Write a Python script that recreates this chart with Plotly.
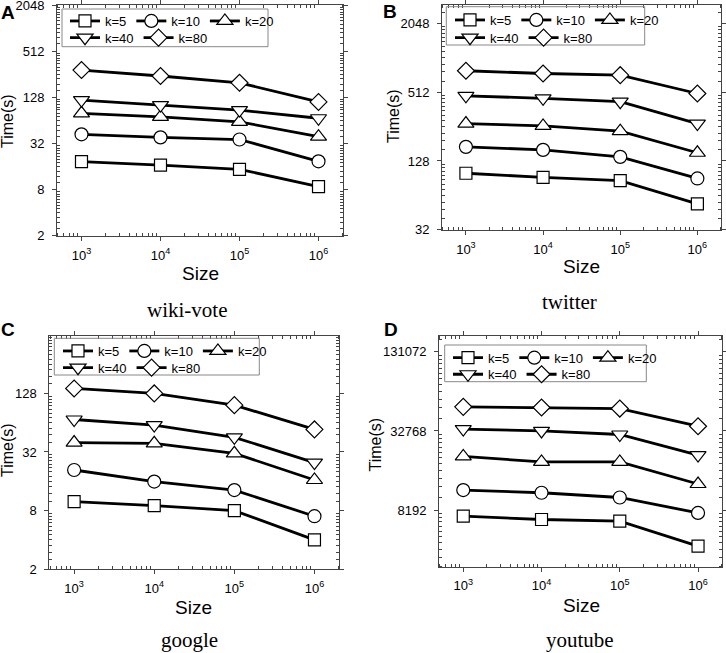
import plotly.graph_objects as go
import math

W, H = 726, 653

sizes = [1e3, 1e4, 1e5, 1e6]
k_labels = ["k=5", "k=10", "k=20", "k=40", "k=80"]
symbols = ["square", "circle", "triangle-up", "triangle-down", "diamond"]
msizes = [12, 13, 14, 14, 13]

wiki_k5 = [18.6, 16.8, 14.8, 8.8]
wiki_k10 = [42.3, 38.6, 36.2, 18.8]
wiki_k20 = [79.5, 71.5, 61.6, 39.4]
wiki_k40 = [118.6, 102, 87.6, 68.6]
wiki_k80 = [292, 244, 199, 112]

twitter_k5 = [100, 92, 86, 54]
twitter_k10 = [170, 160, 139, 90]
twitter_k20 = [272, 259, 233, 151]
twitter_k40 = [475, 452, 422, 272]
twitter_k80 = [787, 745, 720, 498]

google_k5 = [9.9, 9.0, 8.0, 4.0]
google_k10 = [20.9, 15.9, 13.0, 7.0]
google_k20 = [40, 39.3, 31, 16.5]
google_k40 = [69, 60.5, 45.3, 24.9]
google_k80 = [144, 128, 97, 54.6]

youtube_k5 = [7380, 6950, 6750, 4360]
youtube_k10 = [11640, 11100, 10220, 7800]
youtube_k20 = [21000, 19060, 19060, 12940]
youtube_k40 = [33900, 32770, 30800, 21460]
youtube_k80 = [50000, 49400, 48500, 35600]

panel_names = ["wiki-vote", "twitter", "google", "youtube"]
panel_letters = ["A", "B", "C", "D"]
panel_data = [
    [wiki_k5, wiki_k10, wiki_k20, wiki_k40, wiki_k80],
    [twitter_k5, twitter_k10, twitter_k20, twitter_k40, twitter_k80],
    [google_k5, google_k10, google_k20, google_k40, google_k80],
    [youtube_k5, youtube_k10, youtube_k20, youtube_k40, youtube_k80],
]
# y ranges as log2 exponents
y_exp_ranges = [(0.995, 11.01), (4.995, 11.53), (0.995, 8.96), (11.57, 17.4)]
y_label_exps = [[1, 3, 5, 7, 9, 11], [5, 7, 9, 11], [1, 3, 5, 7], [13, 15, 17]]
y_tick_labels = [[str(2 ** e) for e in ex] for ex in y_label_exps]
x_tick_text = ["10<sup>3</sup>", "10<sup>4</sup>", "10<sup>5</sup>", "10<sup>6</sup>"]

# plot boxes in pixels (left, top, right, bottom)
boxes = [(57, 5, 343, 236), (442, 5, 721.3, 230), (49.3, 336, 339.3, 569.3), (439, 336, 722.3, 566.7)]
legend_boxes = [(62, 9, 268, 46.7), (446.3, 6.7, 644.7, 45), (54.3, 338.3, 259.3, 375), (444.7, 345, 646.3, 381.7)]
legend_rows = [(20, 36.7), (19, 36.7), (350, 366.7), (356.7, 373.3)]
legend_linestart = [63, 448, 56, 446]
letter_pos = [(8, 13), (390, 11.5), (8, 329), (391, 329.5)]
size_pos = [(200, 273), (581, 267), (193, 607), (581, 605)]
time_pos = [(7, 121), (393, 116), (7, 450), (374.5, 445)]
title_pos = [(187, 310), (569, 302), (189, 640), (580, 640)]


def px(x):
    return x / W


def py(y):
    return 1 - y / H


fig = go.Figure()
layout = dict(width=W, height=H, margin=dict(l=0, r=0, t=0, b=0, autoexpand=False),
              template="none",
              paper_bgcolor="white", plot_bgcolor="white",
              font=dict(family="Liberation Sans, Arial", color="black"))
annotations = []
shapes = []

xminor = [m * 10 ** e for e in range(2, 7) for m in range(2, 10) if 2.69 < math.log10(m * 10 ** e) < 6.31]

for p in range(4):
    sfx = "" if p == 0 else str(p + 1)
    l, t, r, b = boxes[p]
    lo, hi = y_exp_ranges[p]
    yminor = []
    for e in range(int(math.floor(lo)) - 1, int(math.ceil(hi)) + 1):
        if e % 2 == 1:
            a = 2 ** e
            for j in range(1, 12):
                yminor.append(a + j * a / 4)
    axis_common = dict(showline=True, linecolor="#444", linewidth=1, mirror="ticks", automargin=False,
                       ticks="outside", ticklen=4, tickcolor="#444", showgrid=False, zeroline=False,
                       ticklabeloverflow="allow",
                       tickfont=dict(size=13, family="Liberation Sans, Arial", color="black"))
    layout["xaxis" + sfx] = dict(type="log", range=[2.69, 6.31], domain=[px(l), px(r)],
                                 anchor="y" + sfx, tickmode="array", tickvals=sizes, ticktext=x_tick_text,
                                 minor=dict(tickmode="array", tickvals=xminor, ticks="inside", ticklen=3,
                                            tickcolor="#444", showgrid=False),
                                 ticklabelstandoff=3, **axis_common)
    layout["yaxis" + sfx] = dict(type="log", range=[lo * math.log10(2), hi * math.log10(2)],
                                 domain=[py(b), py(t)], anchor="x" + sfx, tickmode="array",
                                 tickvals=[2 ** e for e in y_label_exps[p]], ticktext=y_tick_labels[p],
                                 minor=dict(tickmode="array", tickvals=yminor, ticks="inside", ticklen=3,
                                            tickcolor="#444", showgrid=False),
                                 ticklabelstandoff=5, **axis_common)
    for i in range(5):
        idx = 2 * p + (0 if i < 3 else 1)
        leg = "legend" + ("" if idx == 0 else str(idx + 1))
        fig.add_trace(go.Scatter(
            x=sizes, y=panel_data[p][i], mode="lines+markers", name=k_labels[i],
            xaxis="x" + sfx, yaxis="y" + sfx, legend=leg,
            line=dict(color="black", width=2.8),
            marker=dict(symbol=symbols[i], size=msizes[i], color="white",
                        line=dict(color="black", width=1.2)),
        ))
    for row in range(2):
        idx = 2 * p + row
        name = "legend" + ("" if idx == 0 else str(idx + 1))
        layout[name] = dict(orientation="h", x=px(legend_linestart[p] + 2), xanchor="left",
                            y=py(legend_rows[p][row] - 14), yanchor="top",
                            bgcolor="rgba(0,0,0,0)", borderwidth=0, itemwidth=30,
                            font=dict(size=13, family="Liberation Sans, Arial", color="black"),
                            tracegroupgap=0)
    lx0, ly0, lx1, ly1 = legend_boxes[p]
    shapes.append(dict(type="rect", xref="paper", yref="paper", x0=px(lx0), x1=px(lx1), y0=py(ly1), y1=py(ly0),
                       line=dict(color="#888", width=1), fillcolor="rgba(0,0,0,0)"))
    annotations.append(dict(text="<b>%s</b>" % panel_letters[p], x=px(letter_pos[p][0]), y=py(letter_pos[p][1]),
                            xref="paper", yref="paper", showarrow=False, xanchor="center", yanchor="middle",
                            font=dict(size=19, family="Liberation Sans, Arial", color="black")))
    annotations.append(dict(text="Size", x=px(size_pos[p][0]), y=py(size_pos[p][1]),
                            xref="paper", yref="paper", showarrow=False, xanchor="center", yanchor="middle",
                            font=dict(size=19, family="Liberation Sans, Arial", color="black")))
    annotations.append(dict(text="Time(s)", x=px(time_pos[p][0]), y=py(time_pos[p][1]), textangle=-90,
                            xref="paper", yref="paper", showarrow=False, xanchor="center", yanchor="middle",
                            font=dict(size=16, family="Liberation Sans, Arial", color="black")))
    annotations.append(dict(text=panel_names[p], x=px(title_pos[p][0]), y=py(title_pos[p][1]),
                            xref="paper", yref="paper", showarrow=False, xanchor="center", yanchor="middle",
                            font=dict(size=21, family="Liberation Serif, Times New Roman, serif", color="black")))

layout["annotations"] = annotations
layout["shapes"] = shapes
fig.update_layout(**layout)
fig.write_html("out.html", config={"displayModeBar": False},
               post_script="document.body.style.margin='0';document.body.style.overflow='hidden';")
